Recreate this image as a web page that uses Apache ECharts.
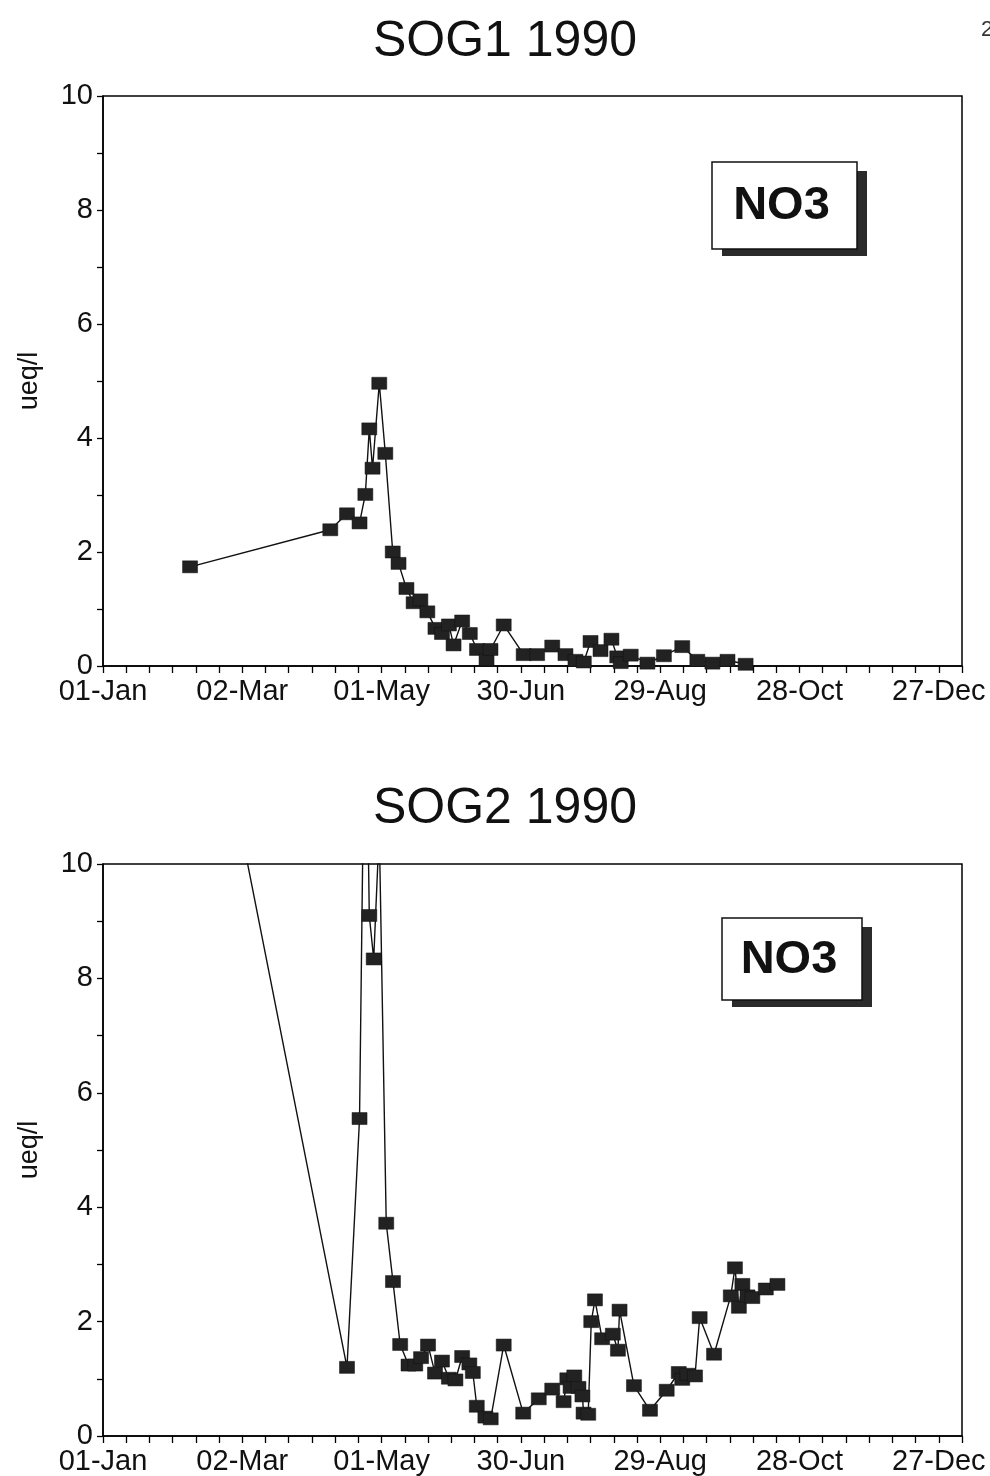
<!DOCTYPE html>
<html>
<head>
<meta charset="utf-8">
<script src="https://cdn.jsdelivr.net/npm/echarts@6/dist/echarts.min.js"></script>
<style>
html,body{margin:0;padding:0;background:#fff;}
#c{width:990px;height:1476px;}
</style>
</head>
<body>
<div id="c"></div>
<script>
// ---- data ----
const xTickLabels = ['01-Jan','02-Mar','01-May','30-Jun','29-Aug','28-Oct','27-Dec'];
const titles = ['SOG1 1990','SOG2 1990'];
const boxLabel = 'NO3';
const yName = 'ueq/l';

// day of year (0 = 01-Jan) and NO3 value, SOG1
const days1 = [37.5, 97.9, 105.1, 110.5, 113, 114.7, 116.1, 119, 121.6, 124.8,
  127.3, 130.7, 133.8, 136.7, 139.7, 143.2, 146, 149, 151, 154.7,
  158, 161.1, 165.2, 166.9, 172.6, 181.2, 187, 193.5, 199.2, 203.5,
  207.1, 210, 214.3, 219, 221.5, 223, 227.3, 234.5, 241.6, 249.5,
  256, 262.5, 269, 276.8];
const no3_1 = [1.74, 2.39, 2.67, 2.51, 3.01, 4.16, 3.47, 4.96, 3.73, 2.0,
  1.8, 1.36, 1.11, 1.16, 0.95, 0.66, 0.57, 0.72, 0.37, 0.79,
  0.57, 0.29, 0.11, 0.29, 0.72, 0.2, 0.2, 0.35, 0.2, 0.1,
  0.07, 0.43, 0.27, 0.47, 0.16, 0.06, 0.19, 0.05, 0.18, 0.34,
  0.1, 0.05, 0.1, 0.03];

// SOG2
const days2 = [37.5, 105.1, 110.5, 113, 114.7, 116.6, 119, 122, 124.9, 128,
  131.6, 134.5, 137, 140, 143, 146, 149, 151.8, 154.7, 157.8,
  159.3, 161, 164.7, 167, 172.6, 181, 187.7, 193.5, 198.4, 200,
  201.4, 203, 204.8, 206.5, 207, 209, 210.3, 211.9, 215, 219.6,
  221.8, 222.5, 228.7, 235.6, 242.8, 248, 249.5, 251.7, 255, 257,
  263.2, 270.4, 272.2, 273.9, 275.4, 277.6, 279.7, 285.5, 290.5];
const no3_2 = [15.1, 1.2, 5.55, 14.0, 9.1, 8.34, 10.6, 3.72, 2.7, 1.6,
  1.24, 1.24, 1.37, 1.59, 1.1, 1.31, 1.01, 0.98, 1.39, 1.26,
  1.11, 0.52, 0.33, 0.3, 1.59, 0.4, 0.65, 0.82, 0.6, 1.0,
  0.85, 1.05, 0.85, 0.7, 0.4, 0.38, 2.0, 2.38, 1.7, 1.78,
  1.5, 2.2, 0.88, 0.45, 0.8, 1.11, 0.99, 1.08, 1.05, 2.07,
  1.43, 2.45, 2.94, 2.25, 2.65, 2.45, 2.42, 2.57, 2.65];

// ---- chart ----
const FONT = 'Liberation Sans, Arial, Helvetica, sans-serif';
const grids = [
  {left: 103, top: 96, right: 28, height: 570},
  {left: 103, top: 864, right: 28, height: 573}
];

function xAxis(i) {
  return {
    type: 'value', gridIndex: i, min: 0, max: 370, interval: 10,
    axisLine: {show: true, lineStyle: {color: '#000', width: 1.5}},
    axisTick: {show: true, length: 7, lineStyle: {color: '#000', width: 1.3}},
    splitLine: {show: false},
    axisLabel: {
      color: '#111', fontFamily: FONT, fontSize: 29, margin: 11,
      formatter: v => (v % 60 === 0 && v / 60 < xTickLabels.length) ? xTickLabels[v / 60] : ''
    }
  };
}
function yAxis(i) {
  return {
    type: 'value', gridIndex: i, min: 0, max: 10, interval: 1,
    name: yName, nameLocation: 'middle', nameGap: 60,
    nameTextStyle: {color: '#111', fontFamily: FONT, fontSize: 27},
    axisLine: {show: true, lineStyle: {color: '#000', width: 1.5}},
    axisTick: {show: true, length: 6, lineStyle: {color: '#000', width: 1.3}},
    splitLine: {show: false},
    axisLabel: {
      color: '#111', fontFamily: FONT, fontSize: 29, margin: 10,
      formatter: v => (v % 2 === 0) ? String(v) : ''
    }
  };
}
function series(i, days, vals) {
  return {
    type: 'line', xAxisIndex: i, yAxisIndex: i, clip: true,
    data: days.map((d, k) => [d, vals[k]]),
    symbol: 'rect', symbolSize: [15, 12],
    itemStyle: {color: '#222', borderColor: '#111', borderWidth: 0.5},
    lineStyle: {color: '#111', width: 1.4},
    animation: false
  };
}

function noBox(bx, by, bw, bh) {
  return [
    {type: 'rect', shape: {x: bx + 10, y: by + 9, width: bw, height: bh - 2},
     style: {fill: '#2b2b2b'}},
    {type: 'rect', shape: {x: bx, y: by, width: bw, height: bh},
     style: {fill: '#fff', stroke: '#111', lineWidth: 1.5}},
    {type: 'text', x: bx + bw / 2 - 3, y: by + bh / 2 + 1,
     style: {text: boxLabel, fontFamily: FONT, fontWeight: 'bold', fontSize: 47,
             fill: '#111', align: 'center', verticalAlign: 'middle'}}
  ];
}

const chart = echarts.init(document.getElementById('c'), null, {renderer: 'canvas'});
chart.setOption({
  animation: false,
  backgroundColor: '#fff',
  grid: grids.map(g => Object.assign({show: true, borderColor: '#000', borderWidth: 1.5, backgroundColor: 'transparent'}, g)),
  xAxis: [xAxis(0), xAxis(1)],
  yAxis: [yAxis(0), yAxis(1)],
  series: [series(0, days1, no3_1), series(1, days2, no3_2)],
  graphic: [
    {type: 'text', x: 505, y: 42,
     style: {text: titles[0], fontFamily: FONT, fontSize: 50, fill: '#111', align: 'center', verticalAlign: 'middle'}},
    {type: 'text', x: 505, y: 809,
     style: {text: titles[1], fontFamily: FONT, fontSize: 50, fill: '#111', align: 'center', verticalAlign: 'middle'}},
    {type: 'text', x: 981, y: 30,
     style: {text: '2', fontFamily: FONT, fontSize: 22, fill: '#333', align: 'left', verticalAlign: 'middle'}},
    ...noBox(712, 162, 145, 87),
    ...noBox(722, 918, 140, 82)
  ]
});
</script>
</body>
</html>
